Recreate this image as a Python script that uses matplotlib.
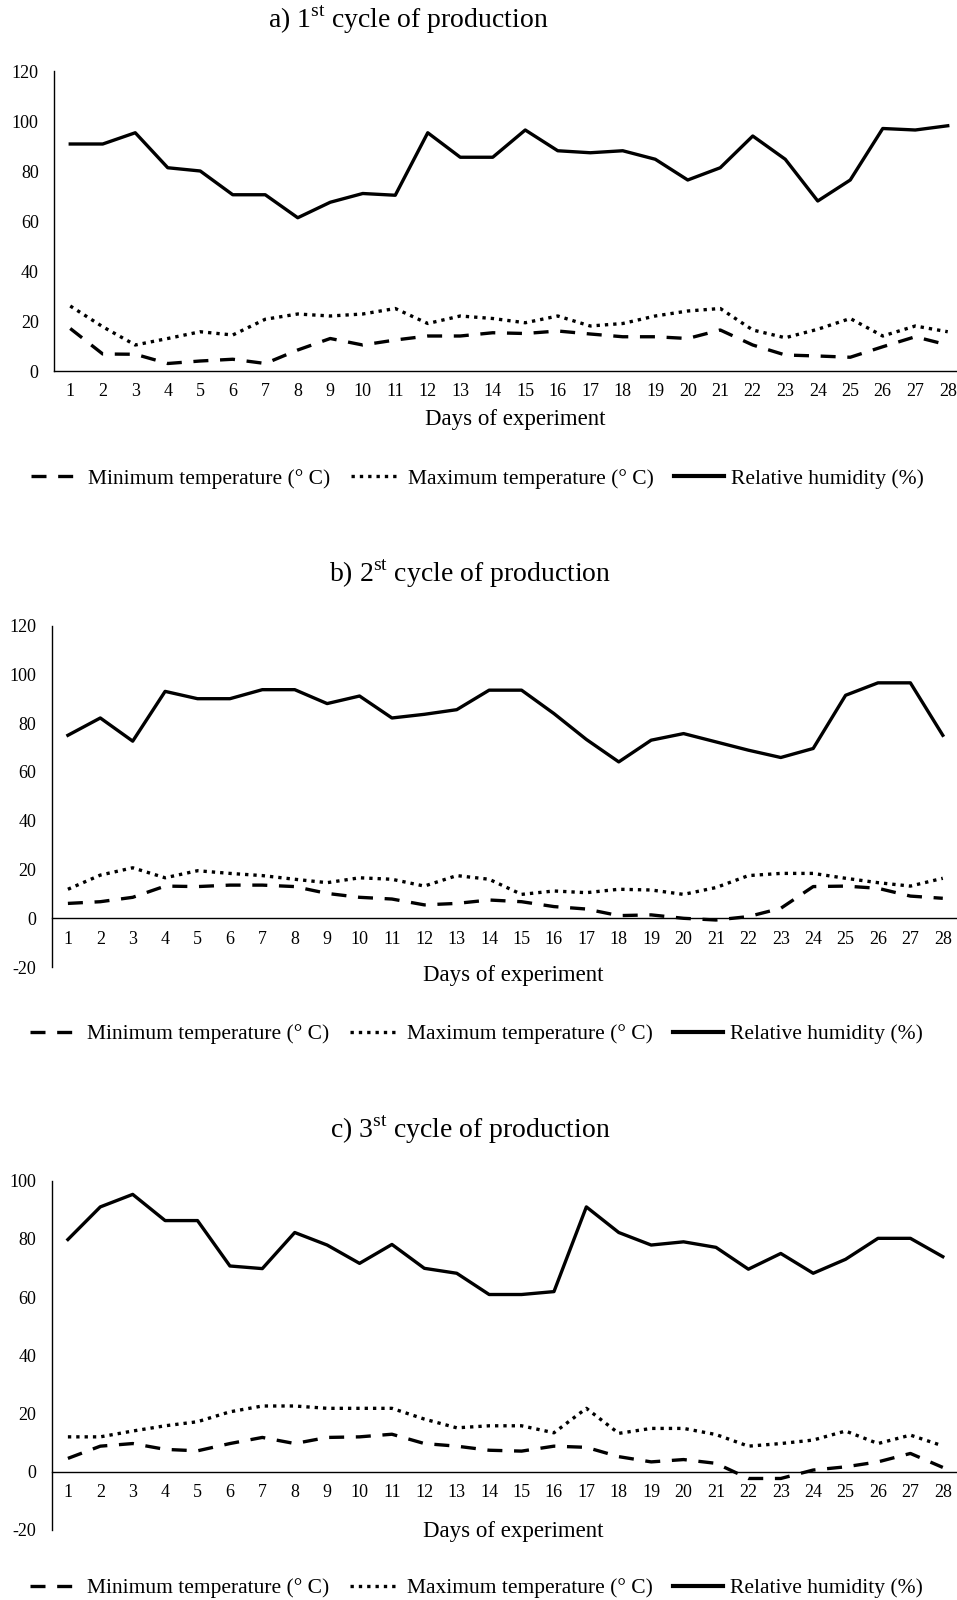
import matplotlib
matplotlib.use("Agg")
import matplotlib.pyplot as plt
from matplotlib.lines import Line2D

plt.rcParams['font.family'] = ['Liberation Serif', 'DejaVu Serif']
plt.rcParams['mathtext.fontset'] = 'custom'
plt.rcParams['mathtext.rm'] = 'Liberation Serif'
plt.rcParams['axes.unicode_minus'] = False

days = list(range(1, 29))

# a) 1st cycle
rh_a = [90.8, 90.8, 95.3, 81.3, 80, 70.5, 70.5, 61.3, 67.5, 71, 70.3, 95.3, 85.5, 85.5,
        96.4, 88.1, 87.3, 88.1, 84.7, 76.4, 81.3, 94, 84.7, 68, 76.4, 97, 96.4, 98.1]
tmax_a = [26, 17.7, 10.4, 13, 15.7, 14.4, 20.7, 22.8, 22, 22.8, 25, 19, 22, 21,
          19.3, 22, 18, 19, 22, 24, 25, 16.4, 13.3, 16.7, 21, 14, 18, 15.7]
tmin_a = [17, 6.8, 6.7, 3, 4, 4.7, 3, 8.4, 13, 10.4, 12.4, 14, 14, 15.3,
          15, 16, 14.8, 13.7, 13.7, 13, 16.4, 10.4, 6.4, 6, 5.5, 9.7, 13.7, 10.4]

# b) 2nd cycle
rh_b = [75, 82.1, 72.6, 93, 90, 90, 93.7, 93.7, 88, 91.1, 82.1, 83.6, 85.5, 93.5,
        93.5, 83.9, 73.3, 64.1, 73, 75.7, 72.3, 68.9, 65.9, 69.6, 91.4, 96.5, 96.5, 75]
tmax_b = [11.9, 17.7, 20.7, 16.6, 19.5, 18.4, 17.5, 16, 14.6, 16.6, 16, 13.2, 17.5, 16,
          9.8, 11.2, 10.5, 11.9, 11.6, 9.8, 12.6, 17.5, 18.4, 18.4, 16.4, 14.6, 13.2, 16.4]
tmin_b = [6.1, 6.8, 8.6, 13.2, 13, 13.6, 13.6, 13, 10.2, 8.6, 7.9, 5.5, 6.1, 7.5,
          6.8, 4.8, 3.8, 1.1, 1.4, 0, -0.7, 0.7, 4.1, 13, 13.2, 12.3, 9.1, 8.2]

# c) 3rd cycle
rh_c = [79.8, 91, 95.3, 86.3, 86.3, 70.7, 69.8, 82.2, 77.9, 71.6, 78.1, 69.9, 68.2, 60.9,
        60.9, 61.9, 91, 82.2, 77.9, 79, 77.1, 69.6, 75, 68.2, 73, 80.2, 80.2, 73.9]
tmax_c = [12, 12, 14, 15.8, 17.2, 20.6, 22.6, 22.6, 21.8, 21.8, 21.8, 18.1, 15.1, 15.8,
          15.8, 13.4, 21.8, 13.2, 14.9, 14.9, 12.8, 8.8, 9.7, 10.9, 14, 9.7, 12.6, 8.9]
tmin_c = [4.6, 8.8, 9.7, 7.7, 7.2, 9.7, 11.8, 9.7, 11.8, 12, 12.9, 9.7, 8.8, 7.4,
          7.1, 8.8, 8.4, 5.2, 3.4, 4.2, 2.9, -2.3, -2.3, 0.6, 1.7, 3.4, 6.3, 1.5]

titles = ["a) 1$^{\\mathrm{st}}$ cycle of production",
          "b) 2$^{\\mathrm{st}}$ cycle of production",
          "c) 3$^{\\mathrm{st}}$ cycle of production"]
labels = ["Minimum temperature (° C)", "Maximum temperature (° C)", "Relative humidity (%)"]

W, H = 957, 1600
fig = plt.figure(figsize=(W / 100, H / 100), dpi=100)

LW = 2.4
DASH = (4.5, 3.5)
DOT = (0, (1, 1.5))


def add_panel(box, ylim, yticks, rh, tmax, tmin, title, title_xy, xlabel_xy, legend_xy):
    left, top, right, bottom = box
    ax = fig.add_axes([left / W, 1 - bottom / H, (right - left) / W, (bottom - top) / H])
    ax.plot(days, tmin, color='black', lw=LW, dashes=DASH)
    ax.plot(days, tmax, color='black', lw=LW, linestyle=DOT)
    ax.plot(days, rh, color='black', lw=LW)
    ax.set_xlim(0.5, 28.5)
    ax.set_ylim(*ylim)
    ax.set_xticks(days)
    ax.set_yticks(yticks)
    for s in ['top', 'right']:
        ax.spines[s].set_visible(False)
    ax.spines['bottom'].set_position(('data', 0))
    for s in ['left', 'bottom']:
        ax.spines[s].set_linewidth(1.0)
        ax.spines[s].set_color('black')
    ax.tick_params(axis='y', length=0, labelsize=13, pad=11)
    ax.tick_params(axis='x', length=0, labelsize=13, pad=9)
    fig.text(title_xy[0] / W, 1 - title_xy[1] / H, title, fontsize=20,
             ha='center', va='center')
    fig.text(xlabel_xy[0] / W, 1 - xlabel_xy[1] / H, "Days of experiment",
             fontsize=16.5, ha='center', va='center')
    handles = [Line2D([], [], color='black', lw=LW, dashes=DASH),
               Line2D([], [], color='black', lw=LW, linestyle=DOT),
               Line2D([], [], color='black', lw=LW + 0.6)]
    fig.legend(handles, labels, loc='center left',
               bbox_to_anchor=(legend_xy[0] / W, 1 - legend_xy[1] / H),
               ncol=3, frameon=False, fontsize=15.5, handlelength=2.3,
               handletextpad=0.35, columnspacing=0.95, borderpad=0,
               borderaxespad=0)
    return ax


add_panel((54, 71, 964, 371), (0, 120), range(0, 121, 20), rh_a, tmax_a, tmin_a,
          titles[0], (408, 20), (515, 420), (31, 479))
add_panel((51.7, 625.5, 959, 967.1), (-20, 120), range(-20, 121, 20), rh_b, tmax_b, tmin_b,
          titles[1], (470, 574), (513, 975), (30, 1034))
add_panel((51.7, 1180.7, 959, 1530), (-20, 100), range(-20, 101, 20), rh_c, tmax_c, tmin_c,
          titles[2], (470, 1130), (513, 1531), (30, 1588))

fig.savefig("out.png", dpi=100)
